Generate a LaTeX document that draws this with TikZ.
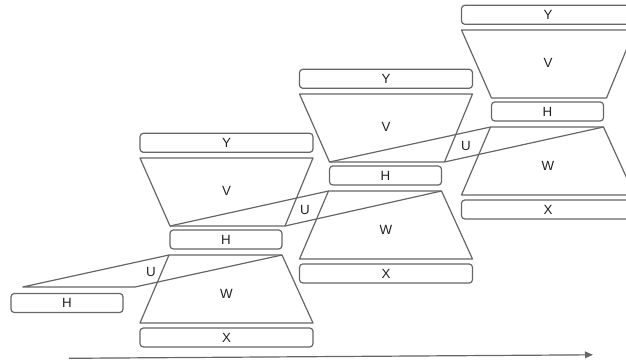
\documentclass[tikz,border=0pt]{standalone}
\usepackage{fontspec}
\setmainfont{Liberation Sans}
\usetikzlibrary{arrows.meta}
\definecolor{linegray}{HTML}{666666}
\definecolor{textgray}{HTML}{222222}
\tikzset{
  line/.style={draw=linegray, line width=0.9pt, line join=round},
  bar/.style={line, rounded corners=2.5pt, inner sep=0pt,
    minimum width=129.75pt, minimum height=14.25pt,
    text=textgray, font=\fontsize{10}{12}\selectfont},
  hbar/.style={bar, minimum width=84pt},
  lbl/.style={inner sep=0pt, text=textgray, font=\fontsize{10}{12}\selectfont},
}
\begin{document}
\begin{tikzpicture}[x=0.75pt, y=-0.75pt]
\useasboundingbox (0,0) rectangle (626,362);
\clip (0,0) rectangle (626,362);

% three stacked stages: Y bar, V funnel, H bar, W funnel, X bar
\foreach \g/\ox/\oy in {1/140/133, 2/299.5/69, 3/461.5/5} {
  \begin{scope}[shift={(\ox,\oy)}]
    \node[bar] (y\g) at (86.5,9.8) {Y};
    \coordinate (vtl\g) at (0,25);
    \coordinate (vtr\g) at (173,25);
    \coordinate (vbr\g) at (145,93);
    \coordinate (vbl\g) at (30,93);
    \draw[line] (vtl\g) -- (vtr\g) -- (vbr\g) -- (vbl\g) -- cycle;
    \node[lbl] (v\g) at (86.5,57.5) {V};
    \node[hbar] (h\g) at (86,106.5) {H};
    \coordinate (wtl\g) at (29,122);
    \coordinate (wtr\g) at (142,122);
    \coordinate (wbr\g) at (173,190);
    \coordinate (wbl\g) at (0,190);
    \draw[line] (wtl\g) -- (wtr\g) -- (wbr\g) -- (wbl\g) -- cycle;
    \node[lbl] (w\g) at (86.5,160.5) {W};
    \node[bar] (x\g) at (86.5,204.5) {X};
  \end{scope}
}

% leftmost H bar and its link into the first stage
\node[hbar] (h0) at (67,303) {H};
\coordinate (ul0) at (22.7,287);
\coordinate (ur0) at (135,287);
\draw[line] (wtl1) -- (ul0) -- (ur0) -- (wtr1);

% U links between consecutive stages
\draw[line] (vbl1) -- (wtl2);
\draw[line] (vbr1) -- (wtr2);
\draw[line] (vbl2) -- (wtl3);
\draw[line] (vbr2) -- (wtr3);
\node[lbl] (u1) at (151,272) {U};
\node[lbl] (u2) at (305,210) {U};
\node[lbl] (u3) at (466,146) {U};

% time axis
\coordinate (ta) at (69,358.3);
\coordinate (tb) at (593,354.8);
\draw[line, -{Triangle[length=6pt, width=5pt]}, fill=linegray] (ta) -- (tb);
\end{tikzpicture}
\end{document}
